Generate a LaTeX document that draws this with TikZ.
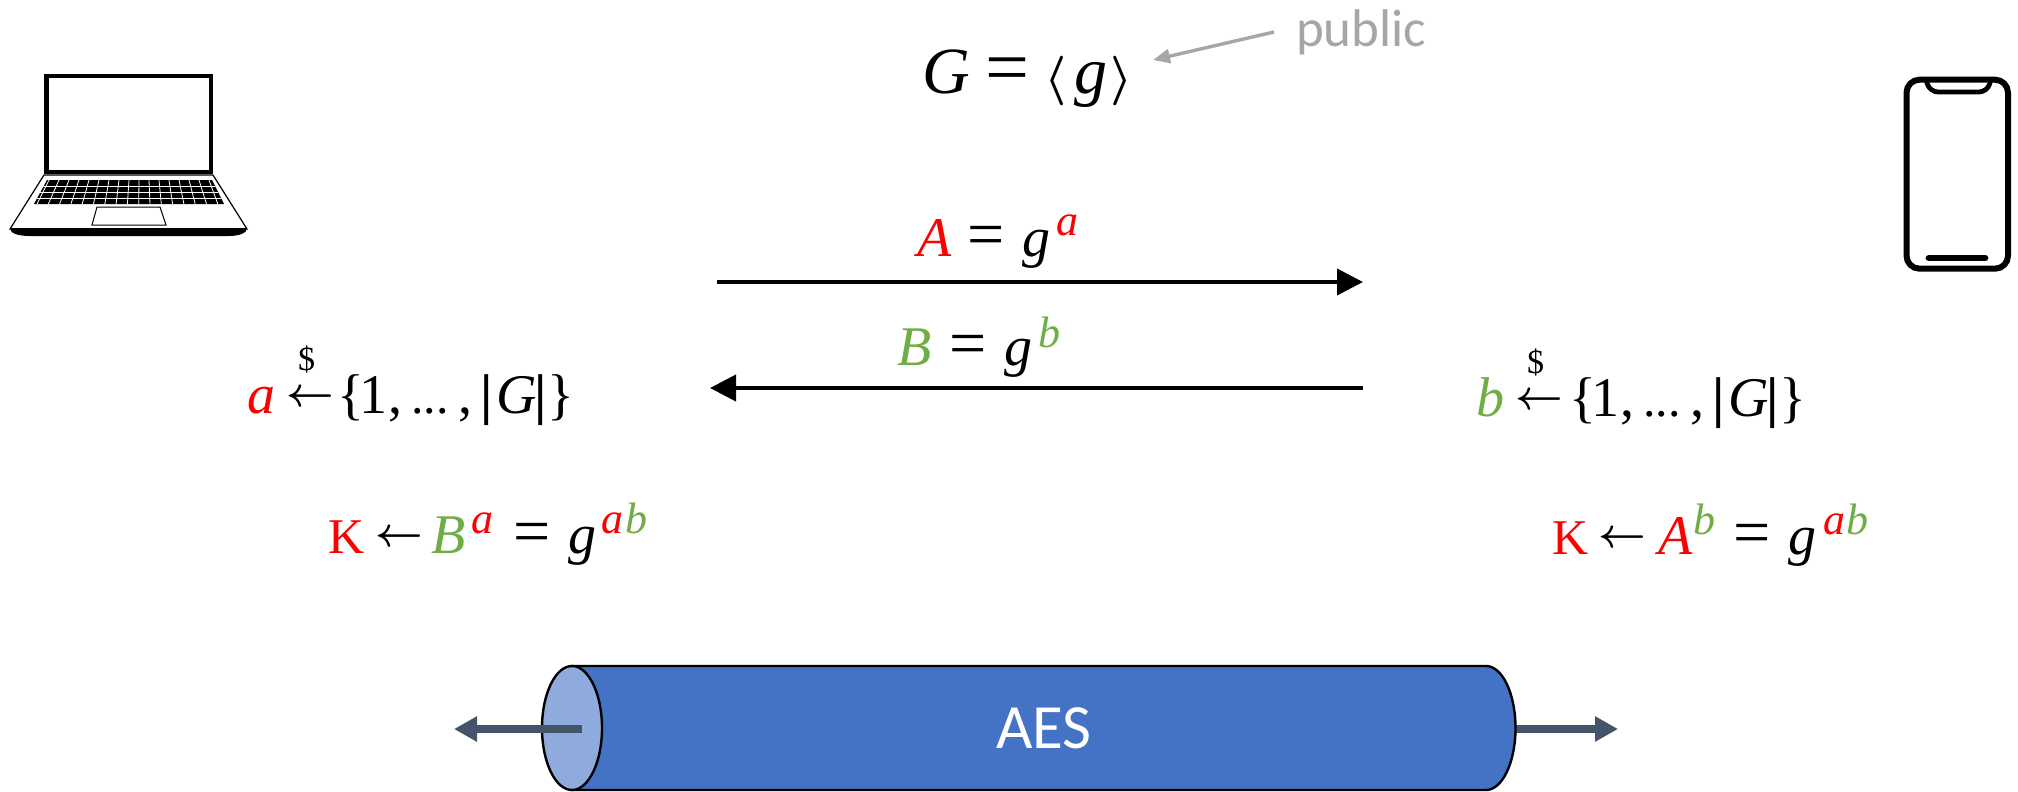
\documentclass[tikz,border=0pt]{standalone}
\usepackage{fontspec}
\usepackage{amsmath}
\setmainfont{Liberation Serif}
\newfontfamily\sansf{Carlito}
\usetikzlibrary{arrows.meta}
\definecolor{kred}{HTML}{FF0000}
\definecolor{kgreen}{HTML}{70AD47}
\definecolor{kgray}{HTML}{A6A6A6}
\definecolor{kblue}{HTML}{4472C4}
\definecolor{klight}{HTML}{8FAADC}
\definecolor{kslate}{HTML}{44546A}
\newcommand{\fs}[1]{\fontsize{#1}{#1}\selectfont}
\newcommand{\ma}{\fs{28}}
\newcommand{\su}{\fs{22}}
\newcommand{\rd}[1]{\textcolor{kred}{#1}}
\newcommand{\gn}[1]{\textcolor{kgreen}{#1}}
\newcommand{\ups}[1]{\raisebox{10pt}{\su\itshape #1}}
\newcommand{\eqs}{{\fs{33}=}}
% place #2 at #1 reference pixels right of the node's origin
\newcommand{\pl}[2]{\makebox[0pt][l]{\hspace{\dimexpr#1pt*1/2\relax}#2}}
\newcommand{\arw}{{\fs{20}\smash{\raisebox{3.4pt}{$\boldsymbol\leftarrow$}}}}
\newcommand{\gset}{\pl{0}{\{}\pl{22}{1}\pl{52}{,}\pl{74}{\fs{25}...}\pl{121}{,}\pl{143}{\textbf{|}}\pl{159}{\textit{G}}\pl{197}{\textbf{|}}\pl{210}{\}}\hspace{115pt}}
\tikzset{
 txt/.style={anchor=base west,inner sep=0pt,outer sep=0pt,font=\ma},
 msg/.style={line width=2pt,-{Triangle[length=13pt,width=13pt]}},
 pipe/.style={line width=4pt,color=kslate,-{Triangle[length=11.5pt,width=12pt]}},
}
\begin{document}
\begin{tikzpicture}[x=0.5pt,y=-0.5pt]
\useasboundingbox (0,0) rectangle (2018,792);
% laptop
\draw[line width=2.3pt,fill=white] (46.2,76.2) rectangle (210.8,172);
\draw[line width=0.6pt,fill=white] (44,175)--(213,175)--(247,229)--(10,229)--cycle;
\fill (10,228) -- (247,228) .. controls (247,233) and (240,236) .. (228,236) -- (30,236) .. controls (17,236) and (10,233) .. (10,228) -- cycle;
\fill (47,180)--(212,180)--(224,204)--(34,204)--cycle;
\begin{scope}
\clip (47,180)--(212,180)--(224,204)--(34,204)--cycle;
\foreach \i in {0,...,16}{
  \draw[white,line width=0.4pt] ({49+\i*10},180) -- ({37+\i*11.3},204);
}
\foreach \yy in {186,192,198}{\draw[white,line width=0.4pt] (30,\yy)--(230,\yy);}
\end{scope}
\draw[line width=0.5pt] (97,207)--(160,207)--(166,225)--(92,225)--cycle;
% phone
\draw[line width=3pt,rounded corners=6.5pt] (1906.5,79.7) rectangle (2008,268.7);
\draw[line width=2.4pt,rounded corners=4pt] (1926,79.7) -- (1930,92) -- (1987,92) -- (1991,79.7);
\draw[line width=3.4pt,line cap=round] (1929,258)--(1985,258);
% text top
\node[txt,font=\fs{33}] (gdef) at (925,94) {\pl{-4}{\textit{G}}\pl{59}{\fs{39}=}\pl{118}{$\boldsymbol\langle$}\pl{148}{\textit{g}}\pl{184}{$\boldsymbol\rangle$}\hspace{102pt}};
\node[txt,font=\sansf\fs{26.5},text=kgray] (pub) at (1296,47) {public};
\coordinate (pubend) at (1274,32);
\coordinate (gend) at (1153,60);
\draw[kgray,line width=1.7pt,-{Triangle[length=8.5pt,width=7pt]}] (pubend)--(gend);
% messages
\node[txt] (msga) at (916,256) {\pl{0}{\rd{\textit{A}}}\pl{50}{\eqs}\pl{105}{\textit{g}}\pl{139}{\ups{\rd{a}}}\hspace{80pt}};
\coordinate (a1) at (717,282); \coordinate (a2) at (1363,282);
\draw[msg] (a1)--(a2);
\node[txt] (msgb) at (897,365) {\pl{-1}{\gn{\textit{B}}}\pl{51}{\eqs}\pl{106}{\textit{g}}\pl{140}{\raisebox{9pt}{\su\itshape\gn{b}}}\hspace{80pt}};
\coordinate (b1) at (1363,388); \coordinate (b2) at (710,388);
\draw[msg] (b1)--(b2);
% choices
\node[txt] (cha) at (247,413) {\rd{\textit{a}}};
\node[txt] (arra) at (286,413) {\arw};
\node[txt,font=\fs{17}] (da) at (298,370) {\$};
\node[txt] (seta) at (336,413) {\gset};
\node[txt] (chb) at (1476,416) {\gn{\textit{b}}};
\node[txt] (arrb) at (1515,416) {\arw};
\node[txt,font=\fs{17}] (db) at (1527,373) {\$};
\node[txt] (setb) at (1568,416) {\gset};
% keys
\node[txt] (ka) at (327,553) {\pl{0}{\rd{\fs{25}K}}\pl{47}{\arw}\pl{103}{\gn{\textit{B}}}\pl{143}{\ups{\rd{a}}}\pl{185}{\eqs}\pl{240}{\textit{g}}\pl{273}{\ups{\rd{a}}}\pl{297}{\ups{\gn{b}}}\hspace{160pt}};
\node[txt] (kb) at (1551,554) {\pl{0}{\rd{\fs{25}K}}\pl{46}{\arw}\pl{106}{\rd{\textit{A}}}\pl{141}{\ups{\gn{b}}}\pl{181}{\eqs}\pl{236}{\textit{g}}\pl{271}{\ups{\rd{a}}}\pl{294}{\ups{\gn{b}}}\hspace{160pt}};
% AES pipe
\coordinate (lin) at (582,729); \coordinate (lout) at (454,729);
\coordinate (rin) at (1510,729); \coordinate (rout) at (1618,729);
\draw[pipe] (rin)--(rout);
\draw[line width=1.2pt,fill=kblue] (572,666) -- (1486,666) arc[start angle=-90,end angle=90,x radius=29.5,y radius=62] -- (572,790) -- cycle;
\draw[line width=1.2pt,fill=klight] (572,728) ellipse [x radius=30,y radius=62];
\draw[pipe] (lin)--(lout);
\node[txt,font=\sansf\fs{31.5},text=white] (aes) at (996,748) {AES};
\end{tikzpicture}
\end{document}
